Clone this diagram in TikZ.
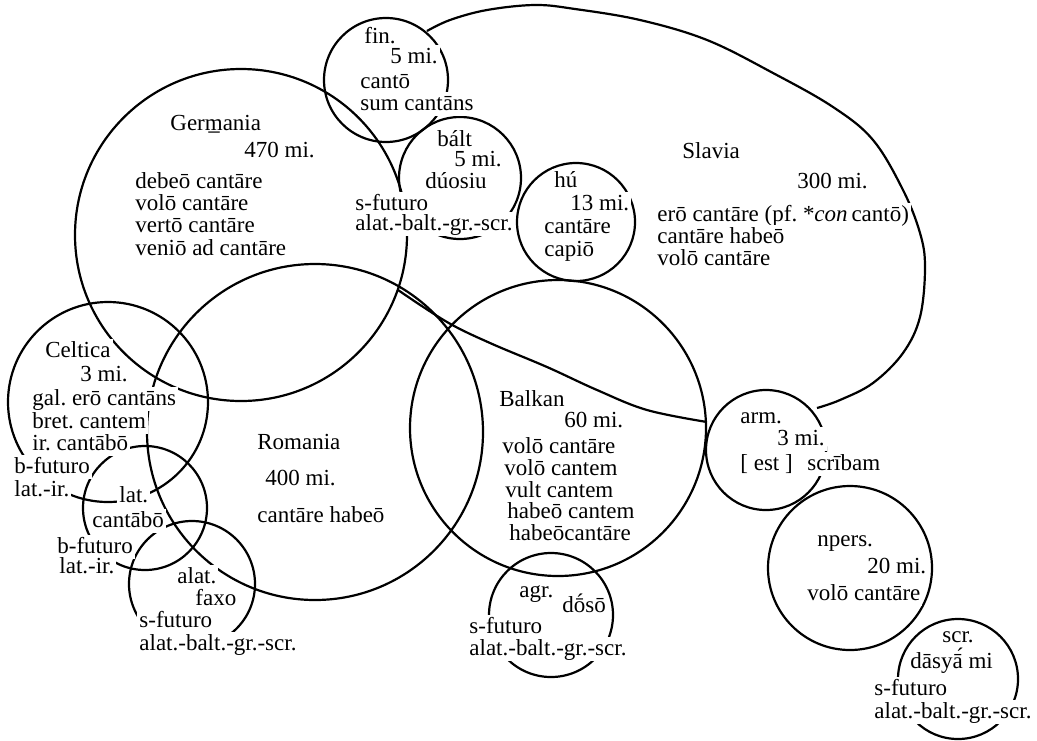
\documentclass[tikz,border=0pt]{standalone}
\usepackage{fontspec}
\setmainfont{Liberation Serif}
\frenchspacing
\tikzset{
  ring/.style={draw, line width=1.1pt},
  lbl/.style={anchor=base west, inner sep=1pt, fill=white,
    text height=8pt, text depth=2pt,
    font=\fontsize{11.5}{11}\selectfont}
}
\begin{document}
\begin{tikzpicture}[x=0.5pt, y=-0.5pt]
\useasboundingbox (0,0) rectangle (1037,740);
\coordinate (germ) at (241,235);
\coordinate (fin) at (386,80);
\coordinate (balt) at (460,178);
\coordinate (hu) at (576,222);
\coordinate (rom) at (315,432);
\coordinate (balk) at (558,428);
\coordinate (celt) at (108,402);
\coordinate (lat) at (145,508);
\coordinate (alat) at (192,584);
\coordinate (agr) at (551,615);
\coordinate (arm) at (766,450);
\coordinate (npers) at (850,568);
\coordinate (scr) at (958,679);
\draw[ring] (germ) circle[radius=166];
\draw[ring] (fin) circle[radius=62];
\draw[ring] (balt) circle[radius=61];
\draw[ring] (hu) circle[radius=59];
\draw[ring] (rom) circle[radius=168];
\draw[ring] (balk) circle[radius=148];
\draw[ring] (celt) circle[radius=100];
\draw[ring] (lat) circle[radius=62];
\draw[ring] (alat) circle[radius=63];
\draw[ring] (agr) circle[radius=62];
\draw[ring] (arm) circle[radius=60];
\draw[ring] (npers) circle[radius=82];
\draw[ring] (scr) circle[radius=60];
% Slavia
\coordinate (slav-in) at (427,31);
\coordinate (slav-out) at (817,408);
\draw[ring] plot[smooth, tension=0.6] coordinates {(slav-in) (450,20) (487,10) (535,5)
  (575,9) (640,20) (707,40) (773,73) (833,107) (873,140) (903,190) (920,233)
  (925,267) (920,317) (903,353) (873,383) (840,400) (slav-out)};
\coordinate (tail-in) at (398,290);
\coordinate (tail-out) at (707,422);
\draw[ring] plot[smooth, tension=0.6] coordinates {(tail-in) (447,322) (490,343)
  (547,367) (597,390) (647,410) (tail-out)};
% labels
\node[lbl] (fin-name) at (362,43) {fin.};
\node[lbl] (fin-size) at (388,63) {5 mi.};
\node[lbl] (fin-a) at (358,88) {cantō};
\node[lbl] (fin-b) at (358,110) {sum cantāns};
\node[lbl] (germ-name) at (168,130) {Ger\b{m}ania};
\node[lbl] (germ-size) at (242,157) {470 mi.};
\node[lbl] (germ-a) at (133,188) {debeō cantāre};
\node[lbl] (germ-b) at (133,210) {volō cantāre};
\node[lbl] (germ-c) at (133,232) {vertō cantāre};
\node[lbl] (germ-d) at (133,255) {veniō ad cantāre};
\node[lbl] (balt-name) at (435,146) {bált};
\node[lbl] (balt-size) at (452,166) {5 mi.};
\node[lbl] (balt-a) at (423,188) {dúosiu};
\node[lbl] (balt-b) at (353,210) {s-futuro};
\node[lbl] (balt-c) at (353,230) {alat.-balt.-gr.-scr.};
\node[lbl] (hu-name) at (552,187) {hú};
\node[lbl] (hu-size) at (568,210) {13 mi.};
\node[lbl] (hu-a) at (542,233) {cantāre};
\node[lbl] (hu-b) at (542,256) {capiō};
\node[lbl] (slav-name) at (680,158) {Slavia};
\node[lbl] (slav-size) at (795,188) {300 mi.};
\node[lbl] (slav-a) at (655,221) {erō cantāre (pf. *\textit{con}\,cantō)};
\node[lbl] (slav-b) at (655,243) {cantāre habeō};
\node[lbl] (slav-c) at (655,265) {volō cantāre};
\node[lbl] (celt-name) at (43,357) {Celtica};
\node[lbl] (celt-size) at (78,381) {3 mi.};
\node[lbl] (celt-a) at (30,405) {gal. erō cantāns};
\node[lbl] (celt-b) at (30,428) {bret. cantem};
\node[lbl] (celt-c) at (30,450) {ir. cantābō};
\node[lbl] (celt-d) at (12,473) {b-futuro};
\node[lbl] (celt-e) at (12,496) {lat.-ir.};
\node[lbl] (lat-name) at (117,502) {lat.};
\node[lbl] (lat-a) at (90,527) {cantābō};
\node[lbl] (lat-b) at (55,553) {b-futuro};
\node[lbl] (lat-c) at (57,573) {lat.-ir.};
\node[lbl] (alat-name) at (175,583) {alat.};
\node[lbl] (alat-a) at (193,605) {faxo};
\node[lbl] (alat-b) at (137,627) {s-futuro};
\node[lbl] (alat-c) at (137,650) {alat.-balt.-gr.-scr.};
\node[lbl] (rom-name) at (255,449) {Romania};
\node[lbl] (rom-size) at (263,485) {400 mi.};
\node[lbl] (rom-a) at (255,522) {cantāre habeō};
\node[lbl] (balk-name) at (497,406) {Balkan};
\node[lbl] (balk-size) at (562,427) {60 mi.};
\node[lbl] (balk-a) at (500,453) {volō cantāre};
\node[lbl] (balk-b) at (502,475) {volō cantem};
\node[lbl] (balk-c) at (503,497) {vult cantem};
\node[lbl] (balk-d) at (505,518) {habeō cantem};
\node[lbl] (balk-e) at (507,540) {habeōcantāre};
\node[lbl] (agr-name) at (517,597) {agr.};
\node[lbl] (agr-a) at (560,612) {d\'{ō}sō};
\node[lbl] (agr-b) at (467,633) {s-futuro};
\node[lbl] (agr-c) at (467,655) {alat.-balt.-gr.-scr.};
\node[lbl] (arm-name) at (738,423) {arm.};
\node[lbl] (arm-size) at (775,445) {3 mi.};
\node[lbl] (arm-a) at (738,470) {[ est ]};
\node[lbl] (arm-b) at (805,470) {scrībam};
\node[lbl] (npers-name) at (815,546) {npers.};
\node[lbl] (npers-size) at (865,573) {20 mi.};
\node[lbl] (npers-a) at (805,600) {volō cantāre};
\node[lbl] (scr-name) at (940,642) {scr.};
\node[lbl] (scr-a) at (908,668) {dāsy\'{ā} mi};
\node[lbl] (scr-b) at (872,695) {s-futuro};
\node[lbl] (scr-c) at (872,718) {alat.-balt.-gr.-scr.};
\end{tikzpicture}
\end{document}
